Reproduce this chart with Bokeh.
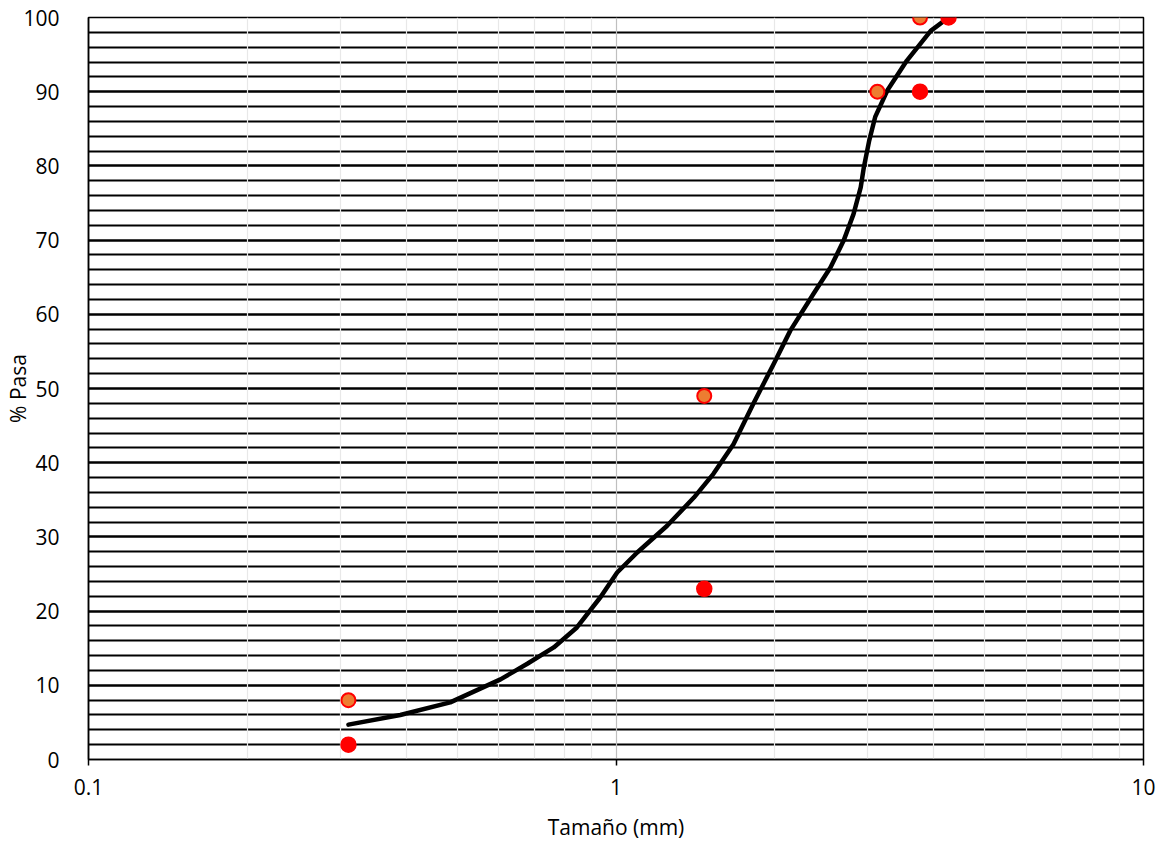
from bokeh.plotting import figure
from bokeh.models import Range1d, FixedTicker, SingleIntervalTicker
from bokeh.embed import file_html
from bokeh.resources import INLINE

# Data
size_red = [0.311, 1.47, 3.77, 4.27]
pasa_red = [2, 23, 90, 100]
size_orange = [0.311, 1.47, 3.13, 3.77]
pasa_orange = [8, 49, 90, 100]
curve_size = [0.311, 0.39, 0.485, 0.604, 0.679, 0.762, 0.843, 0.935, 1.005, 1.097,
              1.25, 1.405, 1.53, 1.67, 1.82, 1.99, 2.14, 2.37, 2.55, 2.70, 2.82,
              2.91, 2.95, 3.02, 3.10, 3.27, 3.56, 3.95, 4.27]
curve_pasa = [4.7, 6.0, 7.7, 10.8, 12.9, 15.1, 17.8, 21.9, 25.2, 27.9,
              31.5, 35.3, 38.5, 42.5, 47.9, 53.3, 57.8, 62.8, 66.3, 69.9, 73.5,
              77.1, 79.8, 83.4, 86.6, 90.2, 94.2, 98.2, 100]
x_major = [0.1, 1, 10]
x_minor = [0.2, 0.3, 0.4, 0.5, 0.6, 0.7, 0.8, 0.9, 2, 3, 4, 5, 6, 7, 8, 9]
x_title = "Tamaño (mm)"
y_title = "% Pasa"

FONT = "Open Sans"

p = figure(x_axis_type="log", output_backend="svg", toolbar_location=None,
           frame_width=1055, frame_height=742,
           min_border_left=88, min_border_right=21, min_border_top=17, min_border_bottom=83,
           x_range=Range1d(0.1, 10), y_range=Range1d(0, 100),
           background_fill_color="white", border_fill_color="white")
p.outline_line_color = "black"
p.outline_line_width = 1.5

# X axis
p.xaxis.ticker = FixedTicker(ticks=x_major, minor_ticks=x_minor)
p.xaxis.major_label_overrides = {0.1: "0.1", 1: "1", 10: "10"}
p.xaxis.axis_label = x_title
p.xaxis.axis_line_color = "black"
p.xaxis.axis_line_width = 1.5
p.xaxis.major_tick_line_color = "black"
p.xaxis.major_tick_line_width = 1.5
p.xaxis.major_tick_out = 6
p.xaxis.major_tick_in = 0
p.xaxis.minor_tick_line_color = None
p.xaxis.major_label_standoff = 13
p.xaxis.axis_label_standoff = 15

# Y axis
p.yaxis.ticker = SingleIntervalTicker(interval=10, num_minor_ticks=5)
p.yaxis.axis_label = y_title
p.yaxis.axis_line_color = "black"
p.yaxis.axis_line_width = 1.5
p.yaxis.major_tick_line_color = None
p.yaxis.minor_tick_line_color = None
p.yaxis.major_label_standoff = 23
p.yaxis.axis_label_standoff = -12

for ax in (p.xaxis, p.yaxis):
    ax.major_label_text_font = FONT
    ax.major_label_text_font_size = "21px"
    ax.major_label_text_color = "black"
    ax.axis_label_text_font = FONT
    ax.axis_label_text_font_size = "21px"
    ax.axis_label_text_font_style = "normal"
    ax.axis_label_text_color = "black"

# Grids
yg = p.ygrid[0]
xg = p.xgrid[0]
yg.grid_line_color = "black"
yg.grid_line_width = 1.8
yg.minor_grid_line_color = "black"
yg.minor_grid_line_width = 1.8
xg.grid_line_color = "#bfbfbf"
xg.grid_line_width = 1.2
xg.minor_grid_line_color = "#e8e8e8"
xg.minor_grid_line_width = 1.2
p.center = [yg, xg] + [r for r in p.center if r not in (yg, xg)]

# Curve and points
p.line(curve_size, curve_pasa, line_color="black", line_width=4.5,
       line_cap="round", line_join="round")
p.scatter(size_red, pasa_red, size=15, fill_color="#ff0000", line_color="#ff0000",
          line_width=1.5)
p.scatter(size_orange, pasa_orange, size=14, fill_color="#ed7d31", line_color="#ff0000",
          line_width=2)

open("out.html", "w").write(file_html(p, INLINE))
